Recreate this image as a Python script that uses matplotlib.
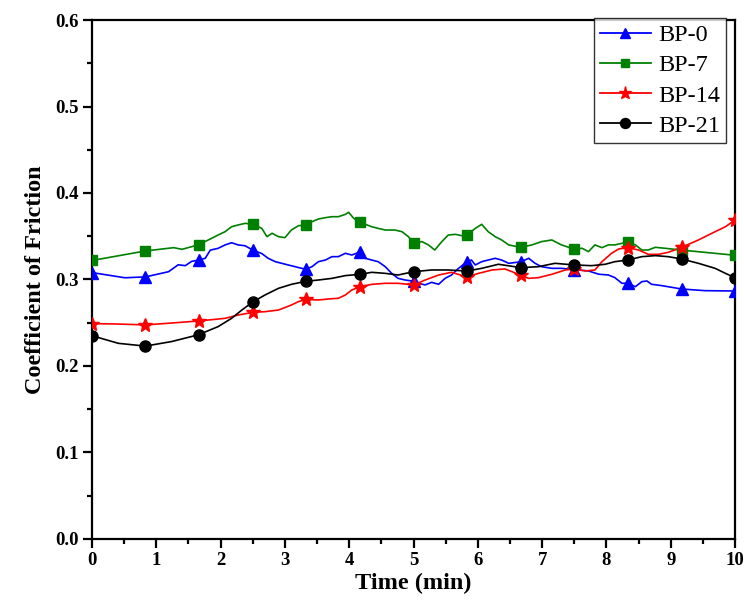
import numpy as np
import matplotlib
matplotlib.use("Agg")
import matplotlib.pyplot as plt
from matplotlib.lines import Line2D
from matplotlib.ticker import MultipleLocator

# ---------------- data ----------------
# marker times (min)
mark_t = [0, 0.83, 1.67, 2.5, 3.33, 4.17, 5.0, 5.83, 6.67, 7.5, 8.33, 9.17, 10.0]

# BP-0 (blue)
bp0_t = [0, 0.51, 0.83, 1.19, 1.34, 1.45, 1.55, 1.67, 1.76, 1.84, 1.96, 2.07, 2.17, 2.27, 2.38,
         2.5, 2.64, 2.74, 2.85, 2.95, 3.05, 3.16, 3.26, 3.33, 3.42, 3.52, 3.63, 3.73, 3.83, 3.94,
         4.04, 4.17, 4.25, 4.35, 4.45, 4.56, 4.66, 4.76, 4.87, 5.0, 5.08, 5.18, 5.28, 5.39, 5.49,
         5.59, 5.70, 5.83, 5.90, 5.96, 6.06, 6.16, 6.27, 6.37, 6.48, 6.67, 6.79, 6.89, 6.99, 7.15,
         7.30, 7.5, 7.72, 7.88, 8.03, 8.13, 8.24, 8.33, 8.45, 8.55, 8.63, 8.70, 8.86, 9.17, 9.53, 10.0]
bp0_v = [0.308, 0.302, 0.303, 0.309, 0.317, 0.316, 0.321, 0.3225, 0.3245, 0.334, 0.336, 0.340, 0.3425, 0.340, 0.339,
         0.334, 0.330, 0.3245, 0.3206, 0.3187, 0.3168, 0.3148, 0.3129, 0.312, 0.3148, 0.3206, 0.3225, 0.3264, 0.3264, 0.3303,
         0.3283, 0.332, 0.3245, 0.3225, 0.3206, 0.3148, 0.3071, 0.3013, 0.2994, 0.298, 0.2956, 0.2937, 0.2967, 0.2945, 0.3013,
         0.3052, 0.3129, 0.3206, 0.3225, 0.3168, 0.3206, 0.3225, 0.3245, 0.3225, 0.3187, 0.3205, 0.3245, 0.3187, 0.3148, 0.3129,
         0.3129, 0.3115, 0.3099, 0.3061, 0.3052, 0.3022, 0.2956, 0.2956, 0.2917, 0.2975, 0.2983, 0.2945, 0.2929, 0.289, 0.2871, 0.2867]
bp0_m = [0.308, 0.303, 0.3225, 0.334, 0.312, 0.332, 0.298, 0.3206, 0.3205, 0.3115, 0.2956, 0.289, 0.2867]

# BP-7 (green)
bp7_t = [0, 0.83, 1.27, 1.40, 1.65, 1.86, 1.96, 2.07, 2.17, 2.27, 2.38, 2.5, 2.64, 2.72, 2.80,
         2.90, 3.00, 3.10, 3.21, 3.33, 3.42, 3.52, 3.63, 3.73, 3.83, 3.94, 3.99, 4.07, 4.17, 4.35,
         4.45, 4.56, 4.71, 4.82, 4.92, 5.0, 5.13, 5.23, 5.33, 5.44, 5.54, 5.65, 5.75, 5.83, 5.96,
         6.06, 6.16, 6.27, 6.37, 6.48, 6.67, 6.84, 6.99, 7.15, 7.30, 7.5, 7.62, 7.72, 7.82, 7.93,
         8.03, 8.13, 8.24, 8.33, 8.45, 8.55, 8.65, 8.76, 8.91, 9.17, 9.53, 10.0]
bp7_v = [0.322, 0.333, 0.3368, 0.3349, 0.340, 0.3476, 0.3514, 0.3553, 0.361, 0.363, 0.3649, 0.364, 0.3591, 0.3495, 0.3534,
         0.3495, 0.3484, 0.3572, 0.3622, 0.363, 0.3668, 0.3699, 0.3715, 0.3726, 0.3726, 0.3753, 0.3777, 0.3707, 0.366, 0.361,
         0.3591, 0.3572, 0.3572, 0.3553, 0.3495, 0.342, 0.3438, 0.340, 0.3341, 0.3438, 0.3514, 0.3522, 0.3507, 0.3514, 0.3591,
         0.3638, 0.3553, 0.3495, 0.3457, 0.340, 0.337, 0.340, 0.3438, 0.3457, 0.340, 0.335, 0.3361, 0.3322, 0.340, 0.3368,
         0.340, 0.340, 0.3418, 0.3437, 0.340, 0.3341, 0.3341, 0.3372, 0.3361, 0.334, 0.3314, 0.328]
bp7_m = [0.322, 0.333, 0.340, 0.364, 0.363, 0.366, 0.342, 0.3514, 0.337, 0.335, 0.3437, 0.334, 0.328]

# BP-14 (red)
bp14_t = [0, 0.41, 0.83, 1.24, 1.65, 2.07, 2.27, 2.5, 2.69, 2.90, 3.10, 3.21, 3.33, 3.52, 3.68,
          3.83, 3.94, 4.04, 4.17, 4.35, 4.56, 4.76, 4.92, 5.0, 5.18, 5.39, 5.59, 5.83, 6.01, 6.22,
          6.42, 6.67, 6.79, 6.94, 7.15, 7.36, 7.5, 7.67, 7.82, 7.93, 8.08, 8.19, 8.33, 8.50, 8.65,
          8.81, 8.96, 9.17, 9.43, 9.69, 9.85, 10.0]
bp14_v = [0.249, 0.2485, 0.2475, 0.2497, 0.252, 0.2551, 0.2589, 0.262, 0.2628, 0.2647, 0.2705, 0.2744, 0.277, 0.2763, 0.2775,
          0.2783, 0.2821, 0.2879, 0.2917, 0.2944, 0.2956, 0.2956, 0.2944, 0.2936, 0.2994, 0.3052, 0.3083, 0.303, 0.3071, 0.311,
          0.3122, 0.305, 0.3013, 0.3021, 0.306, 0.311, 0.312, 0.3099, 0.311, 0.3206, 0.3303, 0.3353, 0.3368, 0.3341, 0.3291,
          0.3291, 0.3314, 0.3372, 0.3457, 0.3553, 0.361, 0.3688]
bp14_m = [0.249, 0.2475, 0.252, 0.262, 0.277, 0.2917, 0.2936, 0.303, 0.305, 0.312, 0.3368, 0.3372, 0.3688]

# BP-21 (black)
bp21_t = [0, 0.41, 0.83, 1.24, 1.65, 1.96, 2.17, 2.33, 2.5, 2.69, 2.90, 3.10, 3.33, 3.52, 3.73,
          3.94, 4.17, 4.35, 4.56, 4.76, 5.0, 5.28, 5.54, 5.83, 6.06, 6.32, 6.67, 6.94, 7.20, 7.5,
          7.77, 7.98, 8.13, 8.33, 8.55, 8.76, 8.96, 9.17, 9.43, 9.69, 9.85, 10.0]
bp21_v = [0.235, 0.2262, 0.223, 0.2283, 0.236, 0.2455, 0.2551, 0.2647, 0.274, 0.2821, 0.2898, 0.2944, 0.298, 0.2994, 0.3013,
          0.3045, 0.306, 0.3083, 0.3071, 0.3052, 0.309, 0.311, 0.311, 0.3098, 0.3129, 0.3176, 0.3137, 0.3148, 0.3187, 0.3168,
          0.316, 0.3176, 0.3206, 0.3225, 0.3264, 0.3276, 0.3264, 0.3237, 0.3187, 0.3129, 0.3071, 0.302]
bp21_m = [0.235, 0.223, 0.236, 0.274, 0.298, 0.306, 0.309, 0.3098, 0.3137, 0.3168, 0.3225, 0.3237, 0.302]

labels = ["BP-0", "BP-7", "BP-14", "BP-21"]

# ---------------- styling ----------------
plt.rcParams['font.family'] = ['Liberation Serif', 'DejaVu Serif']

fig = plt.figure(figsize=(7.44, 6.08), dpi=100)
ax = fig.add_axes([0.1237, 0.1135, 0.8643, 0.8536])

series = [
    (bp0_t, bp0_v, bp0_m, "#0000ff", "^", 8),
    (bp7_t, bp7_v, bp7_m, "#008000", "s", 7),
    (bp14_t, bp14_v, bp14_m, "#ff0000", "*", 10.5),
    (bp21_t, bp21_v, bp21_m, "#000000", "o", 8),
]

handles = []
for (t, v, m, c, mk, ms), lab in zip(series, labels):
    ax.plot(t, v, color=c, lw=1.2, zorder=3)
    ax.plot(mark_t, m, ls='none', marker=mk, ms=ms, color=c, mec=c, zorder=4, clip_on=True)
    handles.append(Line2D([], [], color=c, lw=1.3, marker=mk, ms=ms * 0.9, mec=c))

ax.set_xlim(0, 10)
ax.set_ylim(0, 0.6)
ax.xaxis.set_major_locator(MultipleLocator(1))
ax.xaxis.set_minor_locator(MultipleLocator(0.5))
ax.yaxis.set_major_locator(MultipleLocator(0.1))
ax.yaxis.set_minor_locator(MultipleLocator(0.05))
ax.set_yticks(np.arange(0, 0.61, 0.1))
ax.set_yticklabels([f"{y:.1f}" for y in np.arange(0, 0.61, 0.1)])

ax.tick_params(which='both', direction='out', top=False, right=False, width=1.6)
ax.tick_params(which='major', length=6.5, labelsize=13.5, pad=3)
ax.tick_params(which='minor', length=3.5)
for lab in ax.get_xticklabels() + ax.get_yticklabels():
    lab.set_fontweight('bold')
for sp in ax.spines.values():
    sp.set_linewidth(1.6)

ax.set_xlabel("Time (min)", fontsize=17.5, fontweight='bold', labelpad=3)
ax.set_ylabel("Coefficient of Friction", fontsize=17.5, fontweight='bold', labelpad=7)

leg = ax.legend(handles, labels, loc='upper right', bbox_to_anchor=(0.986, 1.004),
                borderaxespad=0, fontsize=17.5, frameon=True, fancybox=False,
                edgecolor='black', handlelength=2.1, handletextpad=0.3,
                labelspacing=0.34, borderpad=0.25)
leg.get_frame().set_linewidth(1.0)
leg.set_zorder(5)

fig.savefig("out.png", dpi=100)
